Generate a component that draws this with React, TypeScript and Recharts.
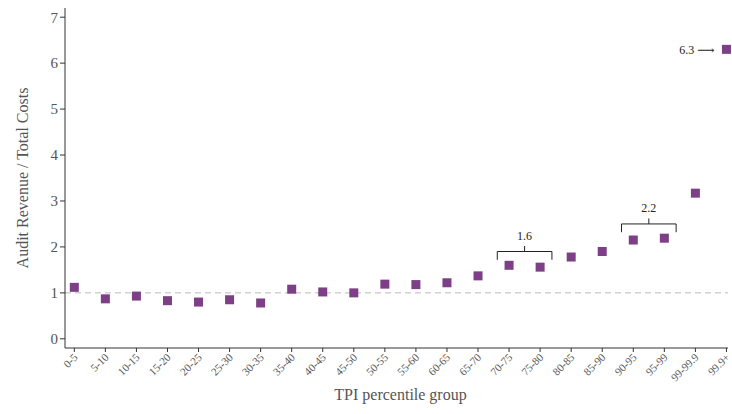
import React from "react";
import {
  ScatterChart,
  Scatter,
  XAxis,
  YAxis,
  ReferenceLine,
  ReferenceDot,
} from "recharts";

const groups = [
  "0-5", "5-10", "10-15", "15-20", "20-25", "25-30", "30-35", "35-40", "40-45", "45-50",
  "50-55", "55-60", "60-65", "65-70", "70-75", "75-80", "80-85", "85-90", "90-95", "95-99",
  "99-99.9", "99.9+",
];
const ratios = [
  1.12, 0.87, 0.93, 0.83, 0.8, 0.85, 0.78, 1.08, 1.02, 1.0,
  1.19, 1.18, 1.22, 1.37, 1.6, 1.56, 1.78, 1.9, 2.15, 2.19,
  3.17, 6.3,
];
const yTicks = [0, 1, 2, 3, 4, 5, 6, 7];
// brackets: [first index, last index, height, label]
const brackets: [number, number, number, string][] = [
  [14, 15, 1.9, "1.6"],
  [18, 19, 2.5, "2.2"],
];

const data = groups.map((g, i) => ({ idx: i, label: g, ratio: ratios[i] }));
const font = "'Liberation Serif', 'DejaVu Serif', serif";
const purple = "#7d3f85";
const axisColor = "#333";

const Square = (props: any) => (
  <rect x={props.cx - 4.5} y={props.cy - 4.5} width={9} height={9} fill={purple} />
);

const XTick = (props: any) => {
  const { x, y, payload } = props;
  return (
    <text
      x={x + 4}
      y={y + 4}
      textAnchor="end"
      transform={`rotate(-45 ${x + 4} ${y + 4})`}
      fontSize={11}
      fill="#555"
      fontFamily={font}
    >
      {groups[payload.value]}
    </text>
  );
};

export default function App() {
  return (
    <div style={{ position: "absolute", left: 0, top: 0, fontFamily: font, width: 732, height: 414 }}>
      <ScatterChart width={732} height={414} margin={{ top: 8, right: 4, left: 40, bottom: 26 }}>
        <XAxis
          type="number"
          dataKey="idx"
          domain={[-0.3, 21.05]}
          ticks={groups.map((_, i) => i)}
          interval={0}
          tick={<XTick />}
          tickSize={4}
          height={40}
          stroke={axisColor}
          label={{ value: "TPI percentile group", position: "insideBottom", offset: -12, dx: 4, fontSize: 16, fill: "#555", fontFamily: font }}
        />
        <YAxis
          type="number"
          dataKey="ratio"
          domain={[-0.2, 7.2]}
          ticks={yTicks}
          width={25}
          tickSize={5}
          stroke={axisColor}
          tick={{ fontSize: 15, fill: "#555", fontFamily: font }}
          label={{ value: "Audit Revenue / Total Costs", angle: -90, position: "center", dx: -30, fontSize: 16, fill: "#555", fontFamily: font }}
        />
        <ReferenceLine y={1} stroke="#bbb" strokeDasharray="6 4" />
        {brackets.map(([a, b, h, t]) => (
          <React.Fragment key={t}>
            <ReferenceLine segment={[{ x: a - 0.38, y: h }, { x: b + 0.38, y: h }]} stroke="#222" />
            <ReferenceLine segment={[{ x: a - 0.38, y: h }, { x: a - 0.38, y: h - 0.18 }]} stroke="#222" />
            <ReferenceLine segment={[{ x: b + 0.38, y: h }, { x: b + 0.38, y: h - 0.18 }]} stroke="#222" />
            <ReferenceLine segment={[{ x: (a + b) / 2, y: h }, { x: (a + b) / 2, y: h + 0.12 }]} stroke="#222" />
            <ReferenceDot
              x={(a + b) / 2}
              y={h + 0.12}
              r={0}
              fill="none"
              stroke="none"
              label={{ value: t, position: "top", fontSize: 12, fill: "#222", fontFamily: font, offset: 6 }}
            />
          </React.Fragment>
        ))}
        <ReferenceDot
          x={21}
          y={6.3}
          r={0}
          fill="none"
          stroke="none"
          label={{ value: "6.3 ⟶", position: "left", fontSize: 12, fill: "#222", fontFamily: font, offset: 12 }}
        />
        <Scatter data={data} shape={<Square />} isAnimationActive={false} />
      </ScatterChart>
    </div>
  );
}
